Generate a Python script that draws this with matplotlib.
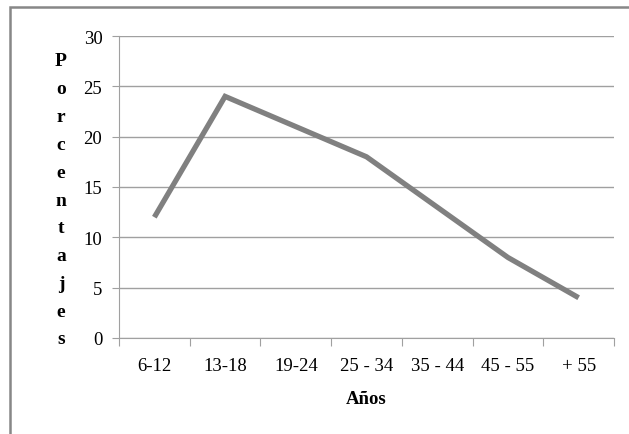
import matplotlib
matplotlib.use("Agg")
from matplotlib import pyplot as plt
from matplotlib.patches import Rectangle
import numpy as np

# datos
edades = ["6-12", "13-18", "19-24", "25 - 34", "35 - 44", "45 - 55", "+ 55"]
porcentajes = [12, 24, 21, 18, 13, 8, 4]
yticks = [0, 5, 10, 15, 20, 25, 30]

plt.rcParams['font.family'] = ['Liberation Serif', 'DejaVu Serif']

W, H = 629, 435
fig = plt.figure(figsize=(W / 100, H / 100), dpi=100)
ax = fig.add_axes([119 / W, 1 - 339 / H, (614 - 119) / W, (339 - 37) / H])

x = np.arange(len(edades))
ax.plot(x, porcentajes, color='#808080', lw=3.8, solid_joinstyle='miter',
        solid_capstyle='butt')

ax.set_xlim(-0.5, len(edades) - 0.5)
ax.set_ylim(0, 30)
ax.set_yticks(yticks)
ax.set_yticklabels([str(v) for v in yticks], fontsize=13.5)
ax.yaxis.grid(True, color='#a0a0a0', lw=1)
ax.set_axisbelow(True)

# ticks en los bordes de categoria, etiquetas en el centro
ax.set_xticks(np.arange(len(edades) + 1) - 0.5)
ax.set_xticklabels([])
ax.set_xticks(x, minor=True)
ax.set_xticklabels(edades, minor=True, fontsize=13.5)
ax.tick_params(axis='x', which='major', length=6, color='#a0a0a0', direction='out')
ax.tick_params(axis='x', which='minor', length=0, pad=14)
ax.tick_params(axis='y', length=5, color='#a0a0a0', direction='out', pad=7)

for s in ['top', 'right']:
    ax.spines[s].set_visible(False)
for s in ['left', 'bottom']:
    ax.spines[s].set_color('#a0a0a0')

ax.set_xlabel("Años", fontsize=13.5, fontweight='bold', labelpad=11)

# etiqueta vertical letra por letra
letras = "Porcentajes"
y0, paso = 1 - 62 / H, 27.8 / H
for i, c in enumerate(letras):
    fig.text(61 / W, y0 - i * paso, c, fontsize=14, fontweight='bold',
             ha='center', va='center')

# borde del grafico
fig.patches.append(Rectangle((10 / W, -0.1), 1.2, 1 - 8 / H + 0.1,
                             transform=fig.transFigure, fill=False,
                             ec='#878787', lw=1.8))

fig.savefig("out.png", dpi=100)
